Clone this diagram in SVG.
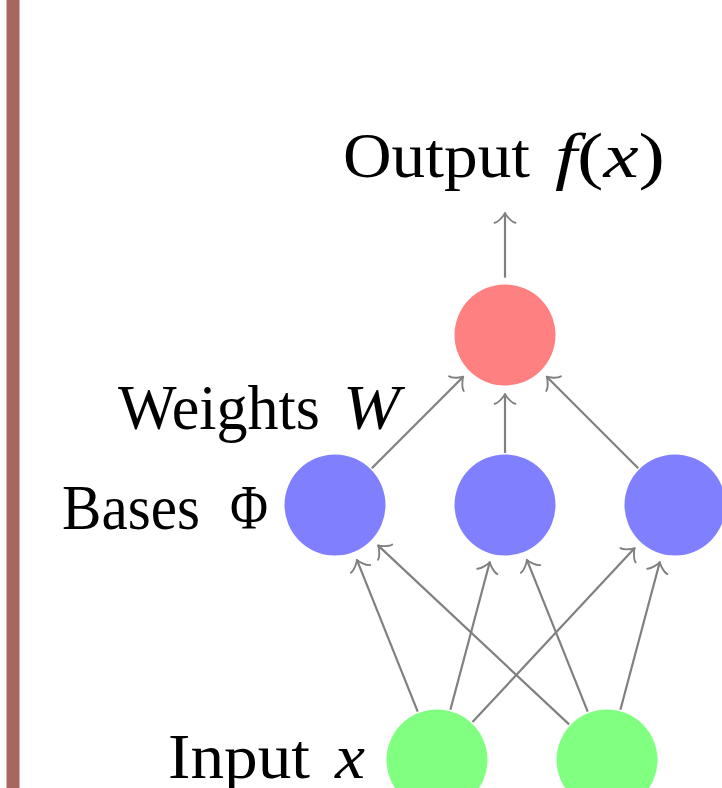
<svg xmlns="http://www.w3.org/2000/svg" width="722" height="788" viewBox="0 0 722 788">
<style>
.lbl{font-family:"Liberation Serif","DejaVu Serif",serif;font-size:63px;fill:#000}
.it{font-style:italic}
.edge{stroke:#808080;stroke-width:2.2;fill:none;marker-end:url(#to)}
</style>
<defs>
<marker id="to" markerUnits="userSpaceOnUse" orient="auto" refX="1.95" refY="0" markerWidth="30" markerHeight="30" overflow="visible">
<path d="M -7.8,-10.4 C -7.15,-6.5 0,-0.65 1.95,0 C 0,0.65 -7.15,6.5 -7.8,10.4" fill="none" stroke="#808080" stroke-width="1.9" stroke-linecap="round" stroke-linejoin="round"/>
</marker>
</defs>
<rect width="722" height="788" fill="#fff"/>
<rect x="6.5" y="0" width="13" height="788" fill="#A8675E"/>
<g id="connectors">
<line class="edge" x1="505" y1="277.7" x2="505" y2="213"/>
<line class="edge" x1="371.8" y1="468.2" x2="463.3" y2="376.7"/>
<line class="edge" x1="505" y1="453" x2="505" y2="394"/>
<line class="edge" x1="638.2" y1="468.2" x2="546.7" y2="376.7"/>
<line class="edge" x1="417.7" y1="711.7" x2="356.9" y2="559.8"/>
<line class="edge" x1="450.4" y1="709.8" x2="489.8" y2="562.0"/>
<line class="edge" x1="472.5" y1="722.0" x2="634.7" y2="548.1"/>
<line class="edge" x1="569.1" y1="724.4" x2="378.0" y2="545.4"/>
<line class="edge" x1="587.7" y1="711.7" x2="526.9" y2="559.8"/>
<line class="edge" x1="620.4" y1="709.8" x2="659.8" y2="562.0"/>
</g>
<g id="output">
<circle cx="505" cy="335" r="50.5" fill="#FF8080"/>
</g>
<g id="base1"><circle cx="335" cy="505" r="50.5" fill="#8080FF"/></g>
<g id="base2"><circle cx="505" cy="505" r="50.5" fill="#8080FF"/></g>
<g id="base3"><circle cx="675" cy="505" r="50.5" fill="#8080FF"/></g>
<g id="input1"><circle cx="437" cy="760" r="50.5" fill="#80FF80"/></g>
<g id="input2"><circle cx="607" cy="760" r="50.5" fill="#80FF80"/></g>
<g id="label-output">
<text class="lbl" x="343" y="177" textLength="187" lengthAdjust="spacingAndGlyphs">Output</text>
<text class="lbl" x="555" y="177" textLength="110" lengthAdjust="spacingAndGlyphs"><tspan class="it">f</tspan>(<tspan class="it">x</tspan>)</text>
</g>
<g id="label-weights">
<text class="lbl" x="118" y="429" textLength="202" lengthAdjust="spacingAndGlyphs">Weights</text>
<text class="lbl it" x="343" y="429" textLength="57" lengthAdjust="spacingAndGlyphs">W</text>
</g>
<g id="label-bases">
<text class="lbl" x="62" y="529" textLength="138" lengthAdjust="spacingAndGlyphs">Bases</text>
<text class="lbl" x="230" y="529" textLength="38" lengthAdjust="spacingAndGlyphs">Φ</text>
</g>
<g id="label-input">
<text class="lbl" x="168" y="778" textLength="142" lengthAdjust="spacingAndGlyphs">Input</text>
<text class="lbl it" x="335" y="778" textLength="30" lengthAdjust="spacingAndGlyphs">x</text>
</g>
</svg>
